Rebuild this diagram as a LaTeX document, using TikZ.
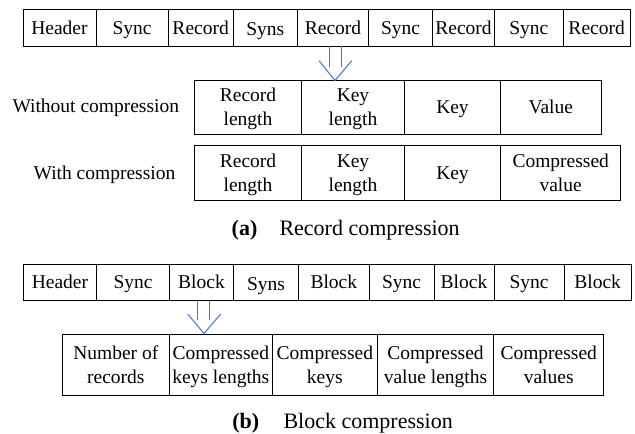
\documentclass[tikz,border=0pt]{standalone}
\usepackage{fontspec}
\setmainfont{Liberation Serif}
\definecolor{arrowblue}{RGB}{64,112,250}
\tikzset{
  cell/.style={draw, line width=1pt, inner sep=0pt, text height=13pt, text depth=0pt,
    align=center, font=\fontsize{19.5}{24}\selectfont},
  twoline/.style={text height=37pt},
  lowtext/.style={text height=16pt},
  lbl/.style={inner sep=0pt, text height=13pt, text depth=0pt, font=\fontsize{19.5}{24}\selectfont},
  captxt/.style={inner sep=0pt, font=\fontsize{22}{26}\selectfont},
  blu/.style={draw=arrowblue, line width=1pt}
}
\begin{document}
\begin{tikzpicture}[x=1pt,y=-1pt]
\useasboundingbox (0,0) rectangle (635,434);
% (a) top row
\begin{scope}[every node/.style={cell, minimum height=37pt}]
\node[minimum width=73pt]   (a1) at (59.5,27.5)  {Header};
\node[minimum width=72.3pt] (a2) at (132.15,27.5) {Sync};
\node[minimum width=64.7pt] (a3) at (200.65,27.5) {Record};
\node[lowtext, minimum width=64.7pt] (a4) at (265.35,27.5) {Syns};
\node[minimum width=70.6pt] (a5) at (333,27.5)    {Record};
\node[minimum width=64.4pt] (a6) at (400.5,27.5)  {Sync};
\node[minimum width=61.6pt] (a7) at (463.5,27.5)  {Record};
\node[minimum width=69pt]   (a8) at (528.8,27.5)  {Sync};
\node[minimum width=66.7pt] (a9) at (596.65,27.5) {Record};
\end{scope}
% without compression
\node[lbl] (lw) at (95.8,106) {Without compression};
\begin{scope}[every node/.style={cell, minimum height=54pt}]
\node[twoline, minimum width=107.4pt] (w1) at (248,107)    {Record\\length};
\node[twoline, minimum width=102.6pt] (w2) at (353,107)    {Key\\length};
\node[minimum width=96.4pt]  (w3) at (452.5,107)  {Key};
\node[minimum width=100.3pt] (w4) at (550.85,107) {Value};
\end{scope}
% with compression
\node[lbl] (lc) at (104.5,172.5) {With compression};
\begin{scope}[every node/.style={cell, minimum height=55pt}]
\node[twoline, minimum width=107.4pt] (c1) at (248,172.5)   {Record\\length};
\node[twoline, minimum width=102.6pt] (c2) at (353,172.5)   {Key\\length};
\node[minimum width=96.4pt]  (c3) at (452.5,172.5) {Key};
\node[twoline, minimum width=120pt]   (c4) at (560.7,172.5) {Compressed\\value};
\end{scope}
% caption a
\node[captxt, anchor=base] (capa) at (244.5,235) {\textbf{(a)}};
\node[captxt, anchor=base west] (capat) at (279.3,235) {Record compression};
% arrow a
\draw[blu] (329.3,46) -- (329.3,67);
\draw[blu] (341,46) -- (341,67);
\draw[blu] (319,60.7) -- (335,80.5) -- (351.7,60.7);
% (b) top row
\begin{scope}[every node/.style={cell, minimum height=36.7pt}]
\node[minimum width=73.4pt] (b1) at (60,282.35)     {Header};
\node[minimum width=72.6pt] (b2) at (133,282.35)    {Sync};
\node[minimum width=64.4pt] (b3) at (201.5,282.35)  {Block};
\node[lowtext, minimum width=64.6pt] (b4) at (266,282.35) {Syns};
\node[minimum width=71pt]   (b5) at (333.8,282.35)  {Block};
\node[minimum width=64.7pt] (b6) at (401.65,282.35) {Sync};
\node[minimum width=60pt]   (b7) at (464,282.35)    {Block};
\node[minimum width=70.3pt] (b8) at (529.15,282.35) {Sync};
\node[minimum width=66.7pt] (b9) at (597.65,282.35) {Block};
\end{scope}
% block contents
\begin{scope}[every node/.style={cell, twoline, minimum height=60.7pt}]
\node[minimum width=107pt]   (k1) at (115.8,364.65) {Number of\\records};
\node[minimum width=103pt]   (k2) at (220.8,364.65) {Compressed\\keys lengths};
\node[minimum width=105pt]   (k3) at (324.8,364.65) {Compressed\\keys};
\node[minimum width=116.4pt] (k4) at (435.5,364.65) {Compressed\\value lengths};
\node[minimum width=110pt]   (k5) at (548.7,364.65) {Compressed\\values};
\end{scope}
% arrow b
\draw[blu] (197.7,301) -- (197.7,320);
\draw[blu] (209.3,301) -- (209.3,320);
\draw[blu] (187.7,314) -- (204,333.5) -- (220.7,314);
% caption b
\node[captxt, anchor=base] (capb) at (245.8,428) {\textbf{(b)}};
\node[captxt, anchor=base west] (capbt) at (283.3,428) {Block compression};
\end{tikzpicture}
\end{document}
